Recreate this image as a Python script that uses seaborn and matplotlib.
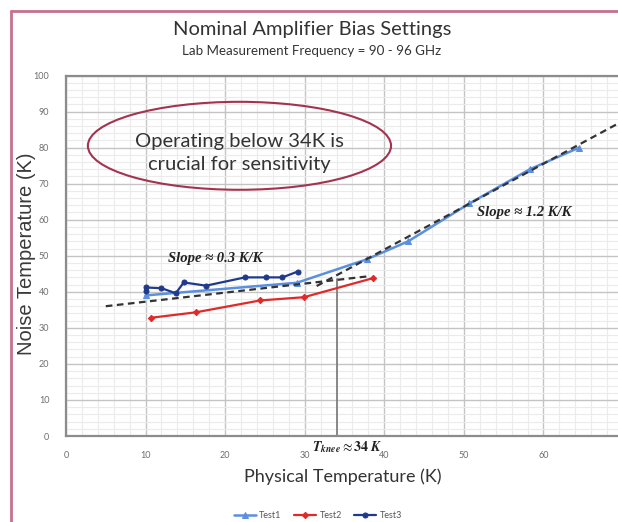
import matplotlib
matplotlib.use("Agg")
import matplotlib.pyplot as plt
import seaborn as sns
import pandas as pd
from matplotlib.patches import Ellipse
from matplotlib.ticker import MultipleLocator

# ---- data ----
test1_x = [10, 29, 37.8, 43, 50.7, 58.3, 64.5]
test1_y = [39, 42.5, 49, 54, 64.5, 74, 80]
test2_x = [10.7, 16.3, 24.4, 29.9, 38.6]
test2_y = [32.8, 34.3, 37.6, 38.5, 43.8]
test3_x = [10, 10, 12, 13.8, 14.8, 17.6, 22.5, 25.1, 27.2, 29.1]
test3_y = [40.2, 41.2, 41, 39.6, 42.6, 41.7, 44, 44, 44, 45.6]
low_fit_x = [5, 38]
low_fit_y = [36, 44.3]
high_fit_x = [31.5, 71]
high_fit_y = [41.6, 88.6]
knee_x = [34, 34]
knee_y = [0, 43.5]
x_ticks = [0, 10, 20, 30, 40, 50, 60, 70]
y_ticks = [0, 10, 20, 30, 40, 50, 60, 70, 80, 90, 100]

sns.set_theme(style="white")
plt.rcParams['font.family'] = ['Lato', 'DejaVu Sans']
plt.rcParams['mathtext.fontset'] = 'stix'

W, H = 618, 522
fig = plt.figure(figsize=(W / 100, H / 100), dpi=100)
ax = fig.add_axes([66 / W, (H - 436) / H, (623 - 66) / W, (436 - 75.5) / H])
AW, AH = 623 - 66, 436 - 75.5

c1 = "#5B8FE0"
c2 = "#E02A2A"
c3 = "#1F3A8C"

df1 = pd.DataFrame({"x": test1_x, "y": test1_y})
df2 = pd.DataFrame({"x": test2_x, "y": test2_y})
df3 = pd.DataFrame({"x": test3_x, "y": test3_y})

sns.lineplot(data=pd.DataFrame({"x": knee_x, "y": knee_y}), x="x", y="y", ax=ax,
             color="#7F7F7F", lw=1.3, estimator=None, sort=False, legend=False, zorder=2)
sns.lineplot(data=df1, x="x", y="y", ax=ax, color=c1, lw=1.8, marker="^", markersize=4,
             markeredgecolor=c1, estimator=None, sort=False, label="Test1", zorder=3)
sns.lineplot(data=df2, x="x", y="y", ax=ax, color=c2, lw=1.6, marker="D", markersize=3.2,
             markeredgecolor=c2, estimator=None, sort=False, label="Test2", zorder=3)
sns.lineplot(data=df3, x="x", y="y", ax=ax, color=c3, lw=1.6, marker="o", markersize=3.6,
             markeredgecolor=c3, estimator=None, sort=False, label="Test3", zorder=3)
sns.lineplot(data=pd.DataFrame({"x": low_fit_x, "y": low_fit_y}), x="x", y="y", ax=ax,
             color="#333333", lw=1.6, linestyle=(0, (3, 2)), estimator=None, sort=False,
             legend=False, zorder=4)
sns.lineplot(data=pd.DataFrame({"x": high_fit_x, "y": high_fit_y}), x="x", y="y", ax=ax,
             color="#333333", lw=1.6, linestyle=(0, (3, 2)), estimator=None, sort=False,
             legend=False, zorder=4)

ax.set_xlim(0, 70)
ax.set_ylim(0, 100)
ax.set_xticks(x_ticks)
ax.set_yticks(y_ticks)
ax.xaxis.set_minor_locator(MultipleLocator(2))
ax.yaxis.set_minor_locator(MultipleLocator(2))
ax.grid(which="major", color="#C4C4C4", lw=1.0)
ax.grid(which="minor", color="#EBEBEB", lw=0.8)
ax.set_axisbelow(True)
for s in ax.spines.values():
    s.set_color("#8C8C8C")
    s.set_linewidth(1.6)
ax.tick_params(axis="both", which="both", length=0, labelsize=6.5, labelcolor="#6E6E6E")
ax.tick_params(axis="x", pad=11)
ax.tick_params(axis="y", pad=12)

ax.set_xlabel("Physical Temperature (K)", fontsize=13, color="#333333")
ax.set_ylabel("Noise Temperature (K)", fontsize=14.5, color="#3A3A3A",
              family=["Liberation Sans", "DejaVu Sans"])
ax.xaxis.set_label_coords((343 - 66) / AW, -(468 - 436) / AH)
ax.yaxis.set_label_coords(-(66 - 36) / AW, (436 - 254) / AH)

# ellipse annotation
ax.add_patch(Ellipse((21.8, 80.5), 38.1, 24.4, fill=False, edgecolor="#A3334F", lw=1.5, zorder=5))
ax.text(21.8, 78.5, "Operating below 34K is\ncrucial for sensitivity", ha="center", va="center",
        fontsize=14.5, color="#333333", linespacing=1.45, zorder=6)

serif = ["Liberation Serif", "DejaVu Serif"]
ax.text(18.7, 49.2, "Slope ≈ 0.3 K/K", ha="center", va="center", fontsize=10.5,
        fontweight="bold", style="italic", family=serif, color="#222222", zorder=6)
ax.text(57.6, 62, "Slope ≈ 1.2 K/K", ha="center", va="center", fontsize=10.5,
        fontweight="bold", style="italic", family=serif, color="#222222", zorder=6)
ax.text(35.3, -3.0, r"$\mathbfit{T}_{\mathbfit{knee}}\approx\mathbf{34}\ \mathbfit{K}$",
        ha="center", va="center", fontsize=10, color="#222222", clip_on=False, zorder=6)

# legend
handles, labels = ax.get_legend_handles_labels()
ax.legend_.remove()
fig.legend(handles, labels, loc="center", bbox_to_anchor=(318 / W, 1 - 516 / H), ncol=3,
           frameon=False, fontsize=6.5, handlelength=2.4, columnspacing=1.4, handletextpad=0.4,
           labelcolor="#555555")

# titles
fig.text(312 / W, 1 - 29 / H, "Nominal Amplifier Bias Settings", ha="center", va="center",
         fontsize=14.5, color="#333333")
fig.text(312 / W, 1 - 51 / H, "Lab Measurement Frequency = 90 - 96 GHz", ha="center",
         va="center", fontsize=9.6, color="#333333")

# pink outer frame (cropped)
fig.add_artist(plt.Line2D([11 / W, 11 / W], [0, 1 - 11 / H], color="#C8708C", lw=2,
                          transform=fig.transFigure))
fig.add_artist(plt.Line2D([11 / W, 1], [1 - 11 / H, 1 - 11 / H], color="#C8708C", lw=2,
                          transform=fig.transFigure))

fig.savefig("out.png", dpi=100)
